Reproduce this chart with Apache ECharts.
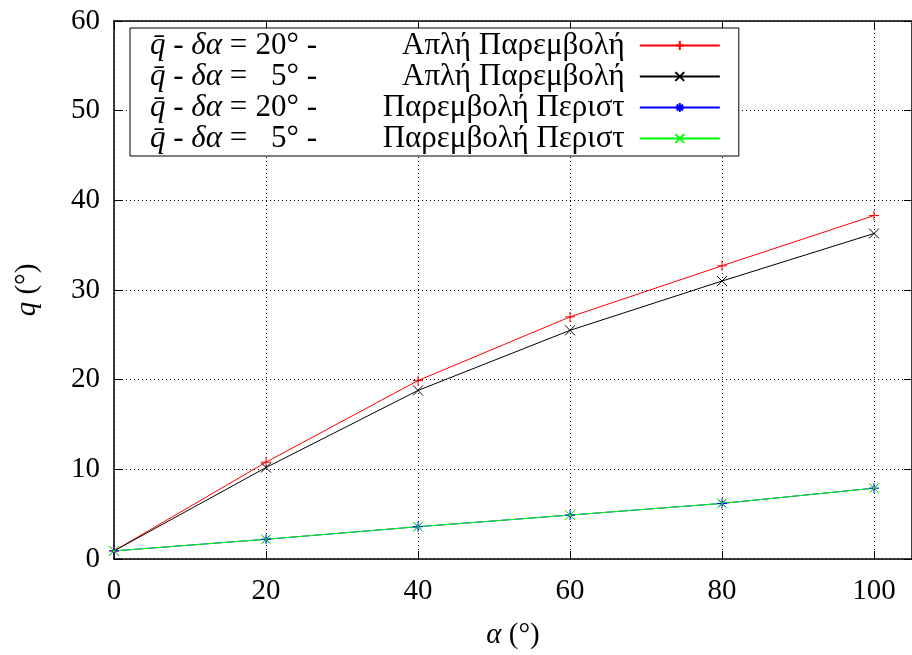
<!DOCTYPE html>
<html>
<head>
<meta charset="utf-8">
<script src="https://cdn.jsdelivr.net/npm/echarts@6/dist/echarts.min.js"></script>
<style>html,body{margin:0;padding:0;background:#fff;}#c{width:912px;height:655px;}</style>
</head>
<body>
<div id="c"></div>
<script>
const alphaValues = [0, 20, 40, 60, 80, 100];
const qSimple20 = [0.9, 10.8, 19.9, 27.0, 32.7, 38.3];
const qSimple5 = [0.9, 10.2, 18.8, 25.5, 31.0, 36.3];
const qPerist20 = [0.9, 2.2, 3.6, 4.9, 6.2, 7.9];
const qPerist5 = [0.9, 2.2, 3.6, 4.9, 6.2, 7.9];
const seriesNames = ['s20a', 's5a', 's20p', 's5p'];
const legendParts = {
  s20a: ['20°', 'Απλή Παρεμβολή'],
  s5a: ['5°', 'Απλή Παρεμβολή'],
  s20p: ['20°', 'Παρεμβολή Περιστ'],
  s5p: ['5°', 'Παρεμβολή Περιστ']
};

const FONT = '"Liberation Serif", "DejaVu Serif", serif';
const PLUS = 'path://M0 5L10 5M5 0L5 10';
const CROSS = 'path://M0 0L10 10M10 0L0 10';
const STAR = 'path://M0 5L10 5M5 0L5 10M1.5 1.5L8.5 8.5M8.5 1.5L1.5 8.5';

function pairs(ys) { return alphaValues.map((x, i) => [x, ys[i]]); }
function mkSeries(name, ys, color, sym) {
  return {
    name: name, type: 'line', data: pairs(ys),
    symbol: sym, symbolSize: 10, showSymbol: true,
    lineStyle: { color: color, width: 1 },
    itemStyle: { color: 'rgba(0,0,0,0)', borderColor: color, borderWidth: 1 },
    emphasis: { disabled: true },
    animation: false, z: 3
  };
}

const chart = echarts.init(document.getElementById('c'));
const axisTxt = { color: '#000', fontFamily: FONT, fontSize: 29 };
const LF = 31;
chart.setOption({
  animation: false,
  backgroundColor: '#fff',
  grid: { left: 114, top: 21, right: -1, bottom: 91 },
  xAxis: [{
    type: 'value', min: 0, max: 105, interval: 20,
    axisLine: { show: true, lineStyle: { color: '#000', width: 1.5 } },
    axisTick: { show: true, inside: true, length: 8, lineStyle: { color: '#000' } },
    axisLabel: Object.assign({ margin: 18, showMaxLabel: false,
      formatter: v => (v % 20 === 0 ? String(v) : '') }, axisTxt),
    splitLine: { show: true, lineStyle: { color: '#000', width: 1, type: [1, 3] } },
    name: '{i|α} (°)', nameLocation: 'middle', nameGap: 62,
    nameTextStyle: Object.assign({ rich: { i: { fontStyle: 'italic', fontFamily: FONT, fontSize: 29, color: '#000' } } }, axisTxt)
  }, {
    type: 'value', min: 0, max: 105, interval: 20, position: 'top',
    axisLine: { show: true, onZero: false, lineStyle: { color: '#000', width: 1.5 } },
    axisTick: { show: true, inside: true, length: 8, lineStyle: { color: '#000' } },
    axisLabel: { show: false }, splitLine: { show: false }
  }],
  yAxis: [{
    type: 'value', min: 0, max: 60, interval: 10,
    axisLine: { show: true, lineStyle: { color: '#000', width: 1.5 } },
    axisTick: { show: true, inside: true, length: 8, lineStyle: { color: '#000' } },
    axisLabel: Object.assign({ margin: 14 }, axisTxt),
    splitLine: { show: true, lineStyle: { color: '#000', width: 1, type: [1, 3] } },
    name: '{i|q} (°)', nameLocation: 'middle', nameGap: 72, nameRotate: 90,
    nameTextStyle: Object.assign({ rich: { i: { fontStyle: 'italic', fontFamily: FONT, fontSize: 29, color: '#000' } } }, axisTxt)
  }, {
    type: 'value', min: 0, max: 60, interval: 10, position: 'right',
    axisLine: { show: true, onZero: false, lineStyle: { color: '#000', width: 1.5 } },
    axisTick: { show: true, inside: true, length: 8, lineStyle: { color: '#000' } },
    axisLabel: { show: false }, splitLine: { show: false }
  }],
  legend: {
    orient: 'vertical', left: 130, top: 28, align: 'right',
    data: seriesNames,
    itemWidth: 80, itemHeight: 11, itemGap: 0,
    padding: [2, 18, 2, 20],
    backgroundColor: '#fff', borderColor: '#000', borderWidth: 1,
    selectedMode: false,
    formatter: function (name) {
      const p = legendParts[name];
      return '{q|q̄}{t| - }{q|δα}{t| = }{n|' + p[0] + '}{t| - }{g|' + p[1] + '}{s| }';
    },
    textStyle: {
      color: '#000', fontFamily: FONT, fontSize: LF, lineHeight: 29,
      rich: {
        q: { fontStyle: 'italic', fontFamily: FONT, fontSize: LF, color: '#000', lineHeight: 29 },
        t: { fontFamily: FONT, fontSize: LF, color: '#000', lineHeight: 29 },
        n: { fontFamily: FONT, fontSize: LF, color: '#000', width: 44, align: 'right', lineHeight: 29 },
        g: { fontFamily: FONT, fontSize: LF, color: '#000', width: 300, align: 'right', lineHeight: 29 },
        s: { fontFamily: FONT, fontSize: LF, width: 10, lineHeight: 29 }
      }
    }
  },
  series: [
    mkSeries('s20a', qSimple20, '#ff0000', PLUS),
    mkSeries('s5a', qSimple5, '#000000', CROSS),
    mkSeries('s20p', qPerist20, '#0000ff', STAR),
    mkSeries('s5p', qPerist5, '#00ff00', CROSS)
  ]
});
</script>
</body>
</html>
